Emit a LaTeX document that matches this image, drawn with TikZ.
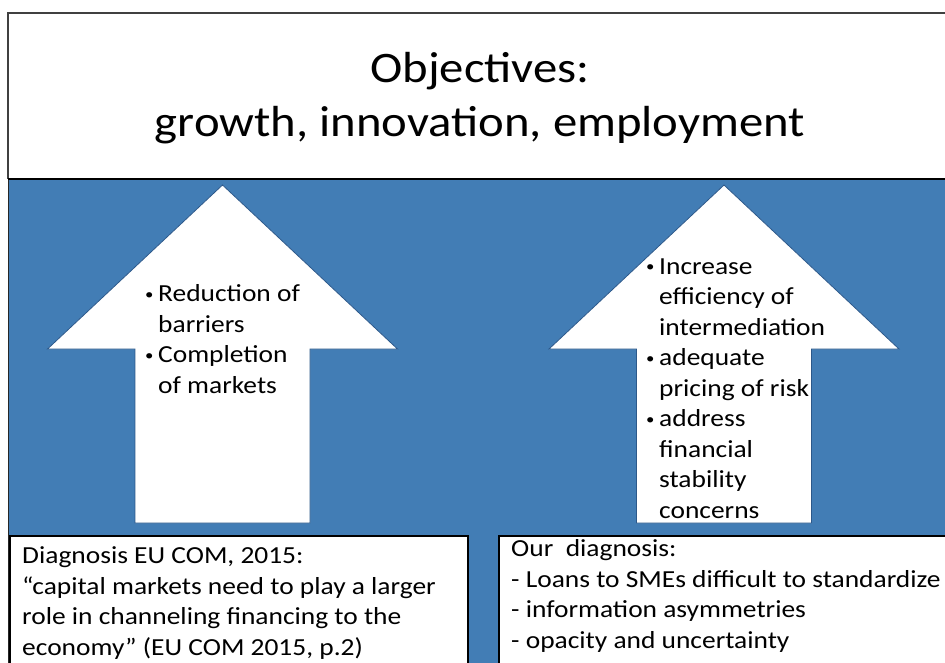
\documentclass[tikz,border=0pt]{standalone}
\usepackage{fontspec}
\setmainfont{Carlito}[FakeStretch=1.12]
\usetikzlibrary{positioning}

\definecolor{panelblue}{RGB}{66,125,181}
\definecolor{edgeblue}{RGB}{44,88,138}

% bullet and hanging indent for the arrow texts
\newcommand{\bul}{\makebox[13pt][l]{\raisebox{2.5pt}{\fontsize{15}{15}\selectfont\textbullet}}}
\newcommand{\hang}{\hspace*{13pt}}

\begin{document}
\begin{tikzpicture}[x=1pt,y=-1pt,
    bigarrow/.style={fill=white, draw=edgeblue, line width=0.8pt},
    diagbox/.style={fill=white, draw=black, line width=1.2pt},
    body/.style={align=left, anchor=base west, inner sep=0pt,
                 font=\fontsize{24.5}{30.5}\selectfont}]
    \useasboundingbox (0,0) rectangle (945,663);

    %----------------------------------------
    % background: blue panel under the title box
    %----------------------------------------
    \filldraw[fill=panelblue, draw=black!85, line width=1pt] (8,179) rectangle (960,680);
    \filldraw[fill=white, draw=black!75, line width=1.5pt] (8,179) -- (8,13) -- (960,13) -- (960,179);
    \draw[black, line width=1.2pt] (8,179) -- (960,179);

    % title (base = last line)
    \node[align=center, anchor=base, inner sep=0pt,
          font=\fontsize{43.5}{54}\selectfont] (objectives) at (480,137)
        {Objectives:\\growth, innovation, employment};

    %----------------------------------------
    % the two up arrows (centre x)
    %----------------------------------------
    \foreach \cx in {222.5, 724}{
       \draw[bigarrow] (\cx,185) -- (\cx+175,349) -- (\cx+87.5,349)
          -- (\cx+87.5,523) -- (\cx-87.5,523) -- (\cx-87.5,349)
          -- (\cx-175,349) -- cycle;
    }

    % text inside the arrows
    \node[body] (markets) at (145,393)
        {\bul Reduction of\\\hang barriers\\
         \bul Completion\\\hang of markets};
    \node[body] (intermed) at (646,518)
        {\bul Increase\\\hang efficiency of\\
         \hang intermediation\\
         \bul adequate\\\hang pricing of risk\\
         \bul address\\\hang financial\\
         \hang stability\\\hang concerns};

    %----------------------------------------
    % diagnosis boxes at the bottom
    %----------------------------------------
    \draw[diagbox] (10,536) rectangle (468,700);
    \draw[diagbox] (499,536) rectangle (960,700);

    \node[body] (eucom) at (22,655)
        {Diagnosis EU COM, 2015:\\
         ``capital markets need to play a larger\\
         role in channeling financing to the\\
         economy'' (EU COM 2015, p.2)};
    \node[body] (ours) at (511,648)
        {Our\ \ diagnosis:\\
         - Loans to SMEs difficult to standardize\\
         - information asymmetries\\
         - opacity and uncertainty};
\end{tikzpicture}
\end{document}
